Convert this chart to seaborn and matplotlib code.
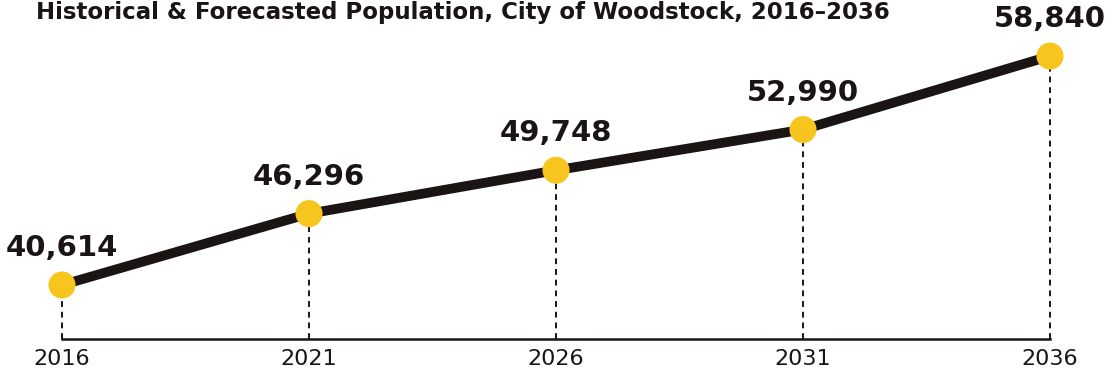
import matplotlib
matplotlib.use("Agg")
import matplotlib.pyplot as plt
import seaborn as sns
import pandas as pd

years = [2016, 2021, 2026, 2031, 2036]
population = [40614, 46296, 49748, 52990, 58840]
value_labels = ["40,614", "46,296", "49,748", "52,990", "58,840"]
title = "Historical & Forecasted Population, City of Woodstock, 2016\u20132036"

sns.set_style("white")
plt.rcParams['font.family'] = ['DejaVu Sans']

df = pd.DataFrame({"year": years, "pop": population})

fig = plt.figure(figsize=(11.13, 3.73), dpi=100)
ax = fig.add_axes([62/1113, 34/373, (1050-62)/1113, 339/373])

# dashed drop lines
for x, y in zip(years, population):
    ax.plot([x, x], [36315, y], color="#1a1414", lw=1.4, ls=(0, (3, 2.5)),
            zorder=1, clip_on=False)

sns.lineplot(data=df, x="year", y="pop", ax=ax, color="#1a1414", lw=7,
             solid_capstyle="round", zorder=2)
sns.scatterplot(data=df, x="year", y="pop", ax=ax, color="#F7C51E", s=380,
                edgecolor="none", zorder=3, clip_on=False)

for x, y, lab in zip(years, population, value_labels):
    ax.annotate(lab, (x, y), xytext=(0, 37), textcoords="offset pixels",
                ha="center", va="center", fontsize=21, fontweight="heavy",
                color="#1a1414", annotation_clip=False)

ax.set_xlim(2016, 2036)
ax.set_ylim(36315, 63305)
ax.set_xticks(years)
ax.set_xticklabels([str(y) for y in years], fontsize=16, color="#1a1414")
ax.set_yticks([])
ax.set_xlabel("")
ax.set_ylabel("")
for s in ["top", "right", "left"]:
    ax.spines[s].set_visible(False)
ax.spines["bottom"].set_color("#1a1414")
ax.spines["bottom"].set_linewidth(1.8)
ax.tick_params(axis="x", length=0, pad=7)

fig.text(890/1113, 1 - 1/373, title, ha="right", va="top",
         fontsize=16.5, fontweight="bold", color="#1a1414")

fig.savefig("out.png", dpi=100)
